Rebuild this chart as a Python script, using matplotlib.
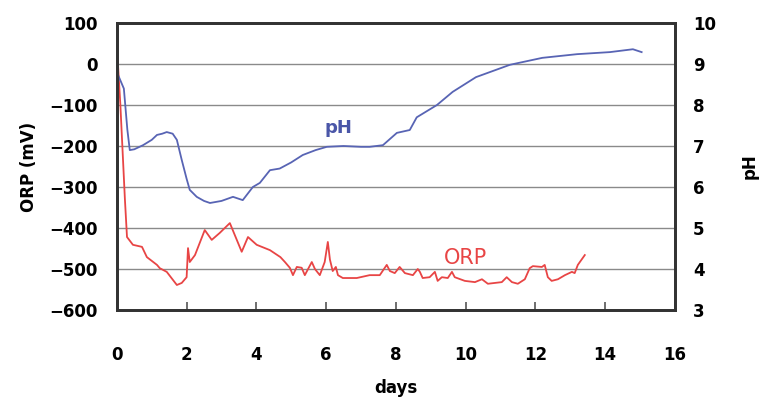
import matplotlib
matplotlib.use("Agg")
import matplotlib.pyplot as plt

# pH trace (right axis)
ph_days = [0.0, 0.1, 0.2, 0.3, 0.37, 0.5, 0.75, 1.0, 1.15, 1.3, 1.43, 1.6, 1.72, 1.86, 2.0,
           2.09, 2.29, 2.5, 2.67, 3.0, 3.33, 3.61, 3.9, 4.1, 4.39, 4.67, 5.0, 5.33, 5.7,
           6.02, 6.5, 7.0, 7.25, 7.63, 8.03, 8.4, 8.6, 9.18, 9.63, 10.3, 11.27, 12.2,
           13.2, 14.14, 14.8, 15.05]
ph_vals = [8.8, 8.6, 8.4, 7.4, 6.9, 6.92, 7.02, 7.15, 7.27, 7.3, 7.34, 7.3, 7.15, 6.66, 6.2,
           5.93, 5.76, 5.66, 5.61, 5.66, 5.76, 5.68, 6.0, 6.1, 6.41, 6.45, 6.6, 6.78, 6.9,
           6.98, 7.0, 6.98, 6.98, 7.02, 7.32, 7.39, 7.7, 8.0, 8.32, 8.68, 8.98, 9.15,
           9.24, 9.29, 9.36, 9.29]

# ORP trace (left axis)
orp_days = [0.02, 0.1, 0.23, 0.29, 0.46, 0.72, 0.86, 1.15, 1.23, 1.43, 1.72, 1.86, 2.0,
            2.04, 2.09, 2.24, 2.52, 2.72, 2.95, 3.24, 3.58, 3.76, 4.01, 4.39, 4.69, 4.82,
            4.96, 5.05, 5.16, 5.3, 5.39, 5.59, 5.68, 5.82, 5.96, 6.05, 6.11, 6.19, 6.28,
            6.34, 6.48, 6.88, 7.25, 7.54, 7.74, 7.83, 7.97, 8.11, 8.26, 8.49, 8.63, 8.69,
            8.77, 8.97, 9.12, 9.2, 9.32, 9.49, 9.61, 9.69, 9.98, 10.27, 10.47, 10.64,
            11.04, 11.18, 11.33, 11.5, 11.7, 11.84, 11.93, 12.19, 12.27, 12.36, 12.47,
            12.65, 12.85, 13.05, 13.13, 13.22, 13.42]
orp_vals = [15, -100, -330, -422, -441, -446, -471, -490, -498, -507, -539, -534, -520,
            -449, -483, -466, -405, -429, -412, -388, -458, -422, -441, -454, -471, -483,
            -497, -515, -495, -497, -515, -483, -500, -515, -483, -434, -477, -505, -495,
            -515, -522, -522, -515, -515, -490, -505, -510, -495, -510, -515, -500, -507,
            -522, -520, -507, -529, -520, -522, -507, -520, -529, -532, -525, -536,
            -532, -520, -532, -536, -525, -498, -493, -495, -490, -520, -529,
            -525, -515, -507, -510, -490, -466]

plt.rcParams["font.family"] = ["DejaVu Sans"]
plt.rcParams["font.weight"] = "bold"

fig = plt.figure(figsize=(7.59, 4.0), dpi=100)
ax = fig.add_axes([0.154, 0.225, 0.735, 0.7175])
ax2 = ax.twinx()

ax.plot(orp_days, orp_vals, color="#e84545", linewidth=1.3)
ax2.plot(ph_days, ph_vals, color="#5864b4", linewidth=1.3)

ax.set_xlim(0, 16)
ax.set_ylim(-600, 100)
ax2.set_ylim(3, 10)
ax.set_xticks(range(0, 17, 2))
ax.set_yticks(range(-600, 101, 100))
ax2.set_yticks(range(3, 11))

ax.grid(True, axis="y", color="#8a8a8a", linewidth=1.0)
ax.set_axisbelow(True)

for a in (ax, ax2):
    for s in a.spines.values():
        s.set_linewidth(2.0)
        s.set_color("#333333")

ax.tick_params(axis="x", direction="in", length=6, width=1.2, color="#555555",
               pad=26, labelsize=12)
ax.tick_params(axis="y", length=0, pad=14, labelsize=12)
ax2.tick_params(axis="y", length=0, pad=13, labelsize=12)

ax.set_ylabel("ORP (mV)", fontsize=12, fontweight="bold", labelpad=8)
ax2.set_ylabel("pH", fontsize=12, fontweight="bold", rotation=90, labelpad=18)
ax.set_xlabel("days", fontsize=12, fontweight="bold", labelpad=11)

ax.text(6.35, -155, "pH", color="#4a56a8", fontsize=13, fontweight="bold",
        ha="center", va="center")
ax.text(10.0, -472, "ORP", color="#e84545", fontsize=15, fontweight="normal",
        ha="center", va="center")

fig.savefig("out.png", dpi=100)
